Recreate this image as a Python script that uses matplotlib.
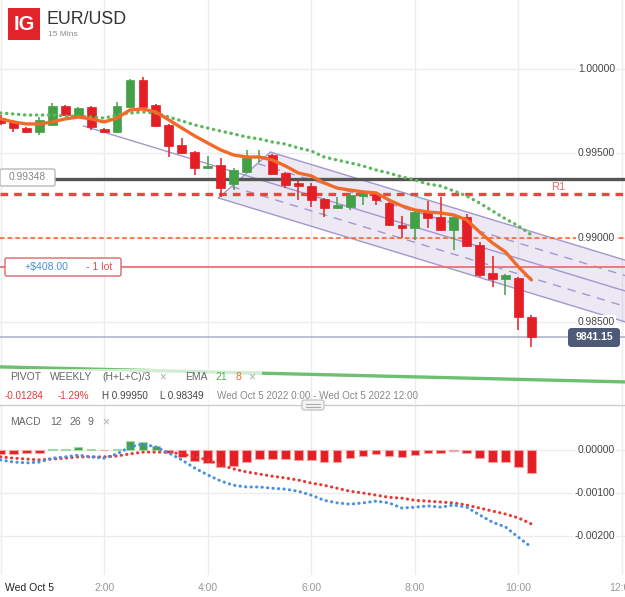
import matplotlib
matplotlib.use('Agg')
import matplotlib.pyplot as plt
import matplotlib.transforms as mtransforms
from matplotlib.patches import Rectangle, FancyBboxPatch, Polygon
import numpy as np

plt.rcParams['font.family'] = ['Liberation Sans', 'DejaVu Sans']

# EUR/USD 15 min candles, Wed Oct 5 2022, 0:00 .. 10:15
opens = [0.99709, 0.99686, 0.99650, 0.99626, 0.99668, 0.99781, 0.99715, 0.99775,
         0.99644, 0.99626, 0.99775, 0.99935, 0.99787, 0.99668, 0.99549, 0.99508,
         0.99413, 0.99431, 0.99318, 0.99389, 0.99478, 0.99490, 0.99383, 0.99324,
         0.99306, 0.99229, 0.99176, 0.99182, 0.99247, 0.99259, 0.99205, 0.99075,
         0.99057, 0.99152, 0.99122, 0.99045, 0.99122, 0.98956, 0.98790, 0.98755,
         0.98761, 0.98529]
highs = [0.99727, 0.99698, 0.99656, 0.99715, 0.99798, 0.99787, 0.99775, 0.99781,
         0.99650, 0.99804, 0.99941, 0.99950, 0.99792, 0.99674, 0.99591, 0.99514,
         0.99484, 0.99472, 0.99413, 0.99520, 0.99520, 0.99496, 0.99389, 0.99342,
         0.99324, 0.99235, 0.99241, 0.99265, 0.99271, 0.99265, 0.99211, 0.99128,
         0.99158, 0.99217, 0.99241, 0.99128, 0.99140, 0.98974, 0.98891, 0.98784,
         0.98767, 0.98541]
lows = [0.99668, 0.99626, 0.99620, 0.99609, 0.99662, 0.99721, 0.99709, 0.99638,
        0.99620, 0.99620, 0.99769, 0.99769, 0.99656, 0.99478, 0.99496, 0.99371,
        0.99407, 0.99241, 0.99282, 0.99383, 0.99449, 0.99371, 0.99294, 0.99223,
        0.99182, 0.99122, 0.99170, 0.99164, 0.99194, 0.99194, 0.99069, 0.98998,
        0.98986, 0.99057, 0.99039, 0.98927, 0.98944, 0.98767, 0.98707, 0.98660,
        0.98452, 0.98349]
closes = [0.99680, 0.99650, 0.99626, 0.99698, 0.99781, 0.99727, 0.99769, 0.99656,
          0.99626, 0.99781, 0.99935, 0.99775, 0.99662, 0.99543, 0.99502, 0.99413,
          0.99425, 0.99294, 0.99401, 0.99478, 0.99484, 0.99377, 0.99312, 0.99306,
          0.99223, 0.99176, 0.99194, 0.99253, 0.99265, 0.99223, 0.99075, 0.99057,
          0.99152, 0.99116, 0.99045, 0.99122, 0.98950, 0.98778, 0.98755, 0.98778,
          0.98529, 0.98412]

ema8 = [0.99704, 0.99686, 0.99674, 0.99674, 0.99686, 0.99704, 0.99715, 0.99704,
        0.99686, 0.99709, 0.99757, 0.99763, 0.99745, 0.99698, 0.99650, 0.99603,
        0.99561, 0.99520, 0.99490, 0.99478, 0.99478, 0.99460, 0.99425, 0.99383,
        0.99366, 0.99324, 0.99294, 0.99282, 0.99271, 0.99265, 0.99223, 0.99188,
        0.99164, 0.99152, 0.99146, 0.99134, 0.99105, 0.99033, 0.98968, 0.98915,
        0.98826, 0.98749]
ema21 = [0.99739, 0.99733, 0.99727, 0.99727, 0.99727, 0.99721, 0.99721, 0.99715,
         0.99709, 0.99727, 0.99739, 0.99745, 0.99739, 0.99715, 0.99692, 0.99668,
         0.99650, 0.99632, 0.99615, 0.99597, 0.99585, 0.99567, 0.99555, 0.99532,
         0.99514, 0.99478, 0.99460, 0.99443, 0.99425, 0.99401, 0.99383, 0.99360,
         0.99342, 0.99318, 0.99306, 0.99277, 0.99247, 0.99205, 0.99158, 0.99111,
         0.99069, 0.99016]

macd_line = [-0.00023, -0.00028, -0.00030, -0.00028, -0.00019, -0.00016, -0.00012, -0.00016,
             -0.00019, -0.00009, 0.00007, 0.00014, 0.00007, -0.00007, -0.00023, -0.00042,
             -0.00058, -0.00072, -0.00082, -0.00086, -0.00086, -0.00089, -0.00091, -0.00096,
             -0.00105, -0.00117, -0.00123, -0.00126, -0.00123, -0.00119, -0.00123, -0.00135,
             -0.00133, -0.00130, -0.00133, -0.00128, -0.00133, -0.00151, -0.00168, -0.00179,
             -0.00203, -0.00226]
signal_line = [-0.00016, -0.00019, -0.00021, -0.00023, -0.00021, -0.00019, -0.00016, -0.00016,
               -0.00016, -0.00014, -0.00009, -0.00005, -0.00005, -0.00005, -0.00009, -0.00016,
               -0.00023, -0.00035, -0.00044, -0.00051, -0.00056, -0.00061, -0.00065, -0.00070,
               -0.00077, -0.00082, -0.00089, -0.00096, -0.00100, -0.00105, -0.00110, -0.00112,
               -0.00117, -0.00119, -0.00121, -0.00123, -0.00128, -0.00135, -0.00142, -0.00149,
               -0.00158, -0.00172]
macd_hist = [-0.00009, -0.00009, -0.00008, -0.00006, 0.00002, 0.00002, 0.00008, 0.00002,
             -0.00001, 0.00003, 0.00022, 0.00019, 0.00009, -0.00006, -0.00016, -0.00026,
             -0.00030, -0.00040, -0.00037, -0.00028, -0.00022, -0.00022, -0.00022, -0.00023,
             -0.00023, -0.00027, -0.00027, -0.00019, -0.00013, -0.00009, -0.00014, -0.00017,
             -0.00012, -0.00008, -0.00008, -0.00002, -0.00006, -0.00019, -0.00027, -0.00027,
             -0.00040, -0.00053]

price_ticks = [1.0, 0.995, 0.99, 0.985]
price_labels = ['1.00000', '0.99500', '0.99000', '0.98500']
macd_ticks = [0.0, -0.001, -0.002]
macd_labels = ['0.00000', '-0.00100', '-0.00200']
time_ticks = [0, 8, 16, 24, 32, 40, 48]
time_labels = ['Wed Oct 5', '2:00', '4:00', '6:00', '8:00', '10:00', '12:00']

level_line = 0.99348
r1_level = 0.99259
alert_level = 0.99000
position_level = 0.98826
last_price = 0.98412
pivot_weekly = [0.98233, 0.98144]   # at bar 0 and bar 48.2

# drawn regression channel (bar index, price)
chan_start, chan_price, chan_slope, chan_half = 6.41, 0.99662, -0.000234, 0.00183
chan_left_lo, chan_left_hi = 16.83, 20.85

W, H = 625, 597
RED = '#e31e24'
GREEN = '#43a047'

fig = plt.figure(figsize=(W / 100, H / 100), dpi=100)
ax = fig.add_axes([0, 193 / H, 1, 404 / H])
axm = fig.add_axes([0, 22 / H, 1, 169 / H])

xlim = (-0.04, 48.23)
n = len(closes)
idx = np.arange(n)

for a in (ax, axm):
    a.set_xlim(*xlim)
    for s in a.spines.values():
        s.set_visible(False)
    a.set_xticks([])
    a.set_yticks([])
    a.set_facecolor('none')
    for t in time_ticks:
        a.axvline(t, color='#ececec', lw=1, zorder=0)

ax.set_ylim(1 - 335 / 16860, 1 + 69 / 16860)
axm.set_ylim(-125 / 43000, 44 / 43000)

for p in price_ticks:
    ax.axhline(p, color='#ececec', lw=1, zorder=0)
for m in macd_ticks:
    axm.axhline(m, color='#ececec', lw=1, zorder=0)

# channel
def chan(x, k):
    return chan_price + chan_slope * (x - chan_start) + k * chan_half

xr = 52
poly = Polygon([(chan_left_lo, chan(chan_left_lo, -1)), (chan_left_hi, chan(chan_left_hi, 1)),
                (xr, chan(xr, 1)), (xr, chan(xr, -1))],
               closed=True, fc='#8e7cc3', alpha=0.16, ec='none', zorder=1)
ax.add_patch(poly)
cc = '#a497cc'
ax.plot([chan_left_lo, chan_left_hi], [chan(chan_left_lo, -1), chan(chan_left_hi, 1)], color=cc, lw=1, zorder=1.5)
ax.plot([chan_left_hi, xr], [chan(chan_left_hi, 1), chan(xr, 1)], color=cc, lw=1, zorder=1.5)
ax.plot([chan_left_lo, xr], [chan(chan_left_lo, -1), chan(xr, -1)], color=cc, lw=1, zorder=1.5)
ax.plot([chan_start, xr], [chan(chan_start, 0), chan(xr, 0)], color=cc, lw=1, zorder=1.5)
for k, t in ((0.5, 0.75), (-0.5, 0.25)):
    x0 = chan_left_lo + t * (chan_left_hi - chan_left_lo)
    ax.plot([x0, xr], [chan(x0, k), chan(xr, k)], color=cc, lw=1, ls=(0, (6, 5)), zorder=1.5)

# horizontal levels
ax.axhline(level_line, color='#555555', lw=2.4, zorder=2)
ax.axhline(r1_level, color='#e8463f', lw=2.4, ls=(0, (2.3, 1.8)), zorder=2)
ax.axhline(alert_level, color='#ff5a1f', lw=1.1, ls=(0, (3, 2)), zorder=2)
ax.axhline(position_level, color='#e57373', lw=1.3, zorder=2)
ax.axhline(last_price, color='#a9b0c6', lw=1.1, zorder=2)
ax.plot([0, 48.23], pivot_weekly, color='#6cc070', lw=2.4, zorder=2)

# candles
cols = [GREEN if c >= o else RED for o, c in zip(opens, closes)]
ax.vlines(idx, lows, highs, colors=cols, lw=1.1, zorder=3)
bottoms = np.minimum(opens, closes)
heights = np.maximum(np.abs(np.array(closes) - np.array(opens)), 0.00003)
ax.bar(idx, heights, bottom=bottoms, width=0.68, color=cols, edgecolor=cols, lw=0.5, zorder=3.5)

# EMAs
ax.plot(idx, ema21, color='#5cb85c', lw=2.4, ls=(0, (0.1, 1.7)), dash_capstyle='round', zorder=4)
ax.plot(idx, ema8, color='#f26a2a', lw=2.4, solid_capstyle='round', zorder=4.5)

# MACD panel
hcols = [GREEN if v >= 0 else RED for v in macd_hist]
hedge = ['#a6d8a6' if v >= 0 else '#f3a3a3' for v in macd_hist]
axm.bar(idx, macd_hist, width=0.66, color=hcols, edgecolor=hedge, lw=0.8, zorder=2)
axm.plot(idx, signal_line, color='#e53935', lw=2.2, ls=(0, (0.1, 1.7)), dash_capstyle='round', zorder=3)
axm.plot(idx, macd_line, color='#4a90e2', lw=2.2, ls=(0, (0.1, 1.7)), dash_capstyle='round', zorder=3)

# right axis labels
tr = mtransforms.blended_transform_factory(ax.transAxes, ax.transData)
for p, lab in zip(price_ticks, price_labels):
    ax.text(0.984, p, lab, transform=tr, ha='right', va='center', fontsize=7.4, color='#444444',
            bbox=dict(fc='white', ec='none', pad=1.0), zorder=6)
trm = mtransforms.blended_transform_factory(axm.transAxes, axm.transData)
for m, lab in zip(macd_ticks, macd_labels):
    axm.text(0.984, m, lab, transform=trm, ha='right', va='center', fontsize=7.4, color='#444444',
             bbox=dict(fc='white', ec='none', pad=1.0), zorder=6)
ax.text(0.893, r1_level + 0.00042, 'R1', transform=tr, ha='center', va='center', fontsize=8,
        color='#e86a6a', zorder=6)

# time labels
trx = mtransforms.blended_transform_factory(axm.transData, fig.transFigure)
for t, lab in zip(time_ticks, time_labels):
    if t == 0:
        fig.text(5 / W, 1 - 588 / H, lab, ha='left', va='center', fontsize=7.5, color='#222222')
    else:
        axm.text(t, 1 - 588 / H, lab, transform=trx, ha='center', va='center', fontsize=7.5,
                 color='#999999', clip_on=False)


def fbox(x0, y0, x1, y1, fc, ec, lw=1.0, alpha=1.0, r=0.003):
    fig.patches.append(FancyBboxPatch((x0 / W, 1 - y1 / H), (x1 - x0) / W, (y1 - y0) / H,
                                      boxstyle='round,pad=0,rounding_size=%f' % r,
                                      transform=fig.transFigure, fc=fc, ec=ec, lw=lw,
                                      alpha=alpha, zorder=2))


def ftext(x, y, s, **kw):
    fig.text(x / W, 1 - y / H, s, va='center', **kw)


# header
fbox(8, 8, 40, 40, '#e2242a', 'none', r=0.0)
ftext(24, 24.5, 'IG', ha='center', fontsize=14.5, color='white', fontweight='bold')
ftext(47, 19, 'EUR/USD', ha='left', fontsize=12.8, color='#333333')
ftext(48, 34, '15 Mins', ha='left', fontsize=6, color='#8a8a8a')

# price boxes
fbox(0, 169, 55, 186, 'white', '#b8b8b8')
ftext(27.5, 177.5, '0.99348', ha='center', fontsize=7.4, color='#888888')
fbox(5, 258, 121, 276, 'white', '#e06666')
ftext(68, 267, '+$408.00', ha='right', fontsize=7.6, color='#4a90d9')
fig.lines.append(plt.Line2D([77 / W, 77 / W], [1 - 261 / H, 1 - 273 / H], transform=fig.transFigure,
                            color='#e06666', lw=1.2))
ftext(86, 267, '- 1 lot', ha='left', fontsize=7.6, color='#e05050')
fbox(568, 328, 620, 347, '#4d5b78', 'none', r=0.006)
ftext(594, 337.5, '9841.15', ha='center', fontsize=7.5, color='white', fontweight='bold')

# legend rows
fbox(0, 369, 262, 404, 'white', 'none', alpha=0.7, r=0.0)
fs = 7.5
ftext(10, 377, 'PIVOT', ha='left', fontsize=fs, color='#666666')
ftext(50, 377, 'WEEKLY', ha='left', fontsize=fs, color='#666666')
ftext(102, 377, '(H+L+C)/3', ha='left', fontsize=fs, color='#666666')
ftext(159, 377, '\u00d7', ha='left', fontsize=8.5, color='#aaaaaa')
ftext(185, 377, 'EMA', ha='left', fontsize=fs, color='#666666')
ftext(215, 377, '21', ha='left', fontsize=fs, color='#4caf50')
ftext(235, 377, '8', ha='left', fontsize=fs, color='#f26a2a')
ftext(248, 377, '\u00d7', ha='left', fontsize=8.5, color='#aaaaaa')

fs2 = 7.1
ftext(5, 396, '-0.01284', ha='left', fontsize=fs2, color='#e53935')
ftext(58, 396, '-1.29%', ha='left', fontsize=fs2, color='#e53935')
ftext(102, 396, 'H 0.99950', ha='left', fontsize=fs2, color='#444444')
ftext(160, 396, 'L 0.98349', ha='left', fontsize=fs2, color='#444444')
ftext(217, 396, 'Wed Oct 5 2022 0:00 - Wed Oct 5 2022 12:00', ha='left', fontsize=fs2, color='#888888')

# panel separator with drag handle
fig.lines.append(plt.Line2D([0, 1], [1 - 405 / H, 1 - 405 / H], transform=fig.transFigure,
                            color='#cccccc', lw=1))
fbox(302, 400, 324, 410, '#f4f4f4', '#bbbbbb', lw=0.8, r=0.004)
for yy in (403.5, 406.5):
    fig.lines.append(plt.Line2D([306 / W, 320 / W], [1 - yy / H, 1 - yy / H], transform=fig.transFigure,
                                color='#aaaaaa', lw=0.8, zorder=3))

ftext(10, 422, 'MACD', ha='left', fontsize=fs, color='#666666')
ftext(50, 422, '12', ha='left', fontsize=fs, color='#666666')
ftext(69, 422, '26', ha='left', fontsize=fs, color='#666666')
ftext(88, 422, '9', ha='left', fontsize=fs, color='#666666')
ftext(102, 422, '\u00d7', ha='left', fontsize=8.5, color='#aaaaaa')

fig.savefig('out.png', dpi=100, facecolor='white')
